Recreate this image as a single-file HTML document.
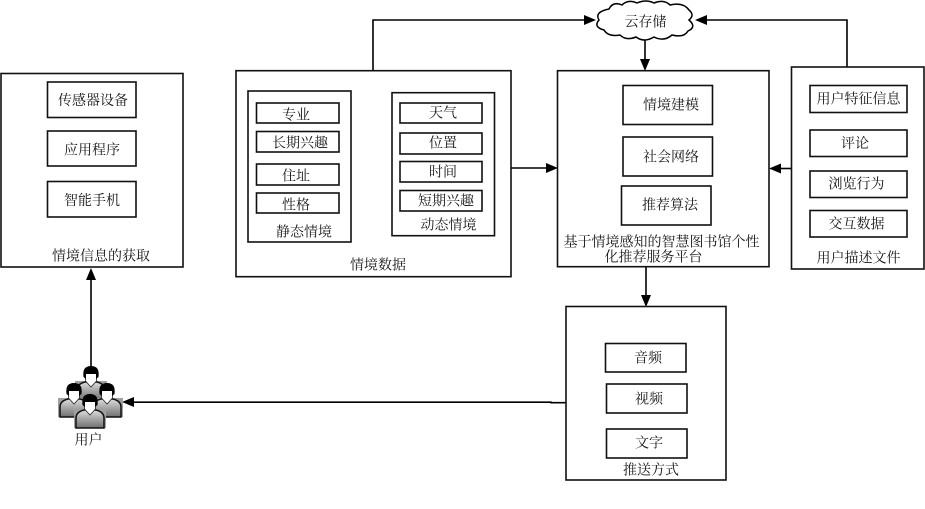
<!DOCTYPE html>
<html lang="zh">
<head>
<meta charset="utf-8">
<style>
html,body{margin:0;padding:0;background:#fff;width:925px;height:509px;overflow:hidden}
svg{display:block;filter:blur(.35px)}
text{font-family:"Liberation Serif","Noto Serif CJK SC",serif;font-size:14px;fill:#151515;text-anchor:middle;dominant-baseline:central;transform:translateY(1.8px)}
.b{fill:#fff;stroke:#111;stroke-width:1.6}
.l{fill:none;stroke:#000;stroke-width:1.6}
.a{fill:#000;stroke:none}
</style>
</head>
<body>
<svg width="925" height="509" viewBox="0 0 925 509" xmlns="http://www.w3.org/2000/svg">
<defs>
<linearGradient id="g" x1="0" y1="0" x2="0" y2="1"><stop offset="0" stop-color="#dcdcdc"/><stop offset="1" stop-color="#6f6f6f"/></linearGradient>
<g id="p">
<rect x="-16" y="15" width="32" height="19" fill="#a0a0a0"/>
<path d="M-14 34V24Q-14 18-6 16H6Q14 18 14 24V34Z" fill="url(#g)" stroke="#111" stroke-width="1.5"/>
<path d="M-5.500 7V15L0 21L5.500 15V7Z" fill="#fff" stroke="#222" stroke-width=".8"/>
<path d="M-7.500 11Q-9 0 0 0Q9 0 7.500 11L5 13V8H-5V13Z" fill="#000"/>
</g>
</defs>

<!-- connectors -->
<path class="l" d="M373 71V20H585"/>
<path class="a" d="M596 20L584 15V25Z"/>
<path class="l" d="M847 67V20H706"/>
<path class="a" d="M695 20L707 15V25Z"/>
<path class="l" d="M645 40V60"/>
<path class="a" d="M645 71L640 59H650Z"/>
<path class="l" d="M511 168H547"/>
<path class="a" d="M558 168L546 163V173Z"/>
<path class="l" d="M791 168.500H779"/>
<path class="a" d="M769 168.500L781 163.500V173.500Z"/>
<path class="l" d="M646 266V296"/>
<path class="a" d="M646 307L641 295H651Z"/>
<path class="l" d="M566 402.700H551V402.200H132"/>
<path class="a" d="M122 402L134 397V407Z"/>
<path class="l" d="M91 368V278"/>
<path class="a" d="M91 268L86 280H96Z"/>

<!-- left -->
<rect class="b" x="1" y="73.500" width="182" height="193.500"/>
<rect class="b" x="47.500" y="82" width="88.500" height="35.500"/>
<rect class="b" x="47.500" y="131" width="88.500" height="35"/>
<rect class="b" x="47.500" y="181.500" width="88.500" height="35.500"/>
<text x="93" y="99.500">传感器设备</text>
<text x="92" y="149">应用程序</text>
<text x="92" y="199.500">智能手机</text>
<text x="101" y="255">情境信息的获取</text>

<!-- context data -->
<rect class="b" x="236" y="70.700" width="275" height="206"/>
<rect class="b" x="248" y="91" width="103" height="151"/>
<rect class="b" x="256.500" y="103" width="82.500" height="20"/>
<rect class="b" x="256.500" y="131.500" width="82.500" height="20.500"/>
<rect class="b" x="256.500" y="164" width="82.500" height="21"/>
<rect class="b" x="256.500" y="193" width="82.500" height="20"/>
<text x="296" y="114">专业</text>
<text x="300" y="142">长期兴趣</text>
<text x="296" y="175">住址</text>
<text x="296" y="204">性格</text>
<text x="304" y="231">静态情境</text>
<rect class="b" x="392" y="92.700" width="102.500" height="143"/>
<rect class="b" x="400" y="103" width="82" height="20"/>
<rect class="b" x="400" y="133" width="82" height="21"/>
<rect class="b" x="400" y="161.500" width="82" height="20.500"/>
<rect class="b" x="400" y="190.500" width="82" height="20.500"/>
<text x="443" y="112">天气</text>
<text x="443" y="142">位置</text>
<text x="443" y="171">时间</text>
<text x="446" y="200">短期兴趣</text>
<text x="448.500" y="224">动态情境</text>
<text x="378" y="264">情境数据</text>

<!-- platform -->
<rect class="b" x="557.500" y="70.700" width="211.500" height="196"/>
<rect class="b" x="623" y="85.500" width="89.500" height="39"/>
<rect class="b" x="623" y="137" width="89.500" height="39"/>
<rect class="b" x="621.500" y="186" width="89.500" height="39"/>
<text x="671" y="104">情境建模</text>
<text x="671" y="156">社会网络</text>
<text x="670" y="204">推荐算法</text>
<text x="661.500" y="241">基于情境感知的智慧图书馆个性</text>
<text x="653.500" y="256">化推荐服务平台</text>

<!-- user profile -->
<rect class="b" x="791.500" y="67" width="132.500" height="202"/>
<rect class="b" x="810" y="85.500" width="97" height="27"/>
<rect class="b" x="810" y="130" width="97" height="26.500"/>
<rect class="b" x="810" y="171" width="97" height="26.500"/>
<rect class="b" x="810" y="210.500" width="97" height="26.500"/>
<text x="858.500" y="98">用户特征信息</text>
<text x="855" y="142.500">评论</text>
<text x="856.500" y="183">浏览行为</text>
<text x="856.500" y="223">交互数据</text>
<text x="858.500" y="257">用户描述文件</text>

<!-- delivery -->
<rect class="b" x="566" y="306.500" width="160" height="173.500"/>
<rect class="b" x="605.500" y="343.500" width="80.500" height="28.500"/>
<rect class="b" x="606.500" y="384" width="80.500" height="29"/>
<rect class="b" x="606.500" y="429" width="80.500" height="29"/>
<text x="648" y="357">音频</text>
<text x="649" y="398">视频</text>
<text x="649" y="442">文字</text>
<text x="651" y="469">推送方式</text>

<!-- cloud -->
<path d="M609 9Q613 1 622 5Q628 -1 637 3Q646 -1 654 3Q664 -1 670 5Q683 2 689 10Q695 15 689 20Q697 27 688 31Q684 38 672 35Q664 42 654 37Q644 43 636 37Q626 41 620 35Q608 37 604 30Q593 27 599 20Q594 12 609 9Z" fill="#fff" stroke="#000" stroke-width="1.500"/>
<text x="645.500" y="21">云存储</text>

<!-- users icon -->
<use href="#p" x="91" y="366"/>
<use href="#p" x="74" y="383"/>
<use href="#p" x="107" y="383"/>
<use href="#p" x="90" y="394"/>
<text x="88.500" y="439">用户</text>
</svg>
</body>
</html>
